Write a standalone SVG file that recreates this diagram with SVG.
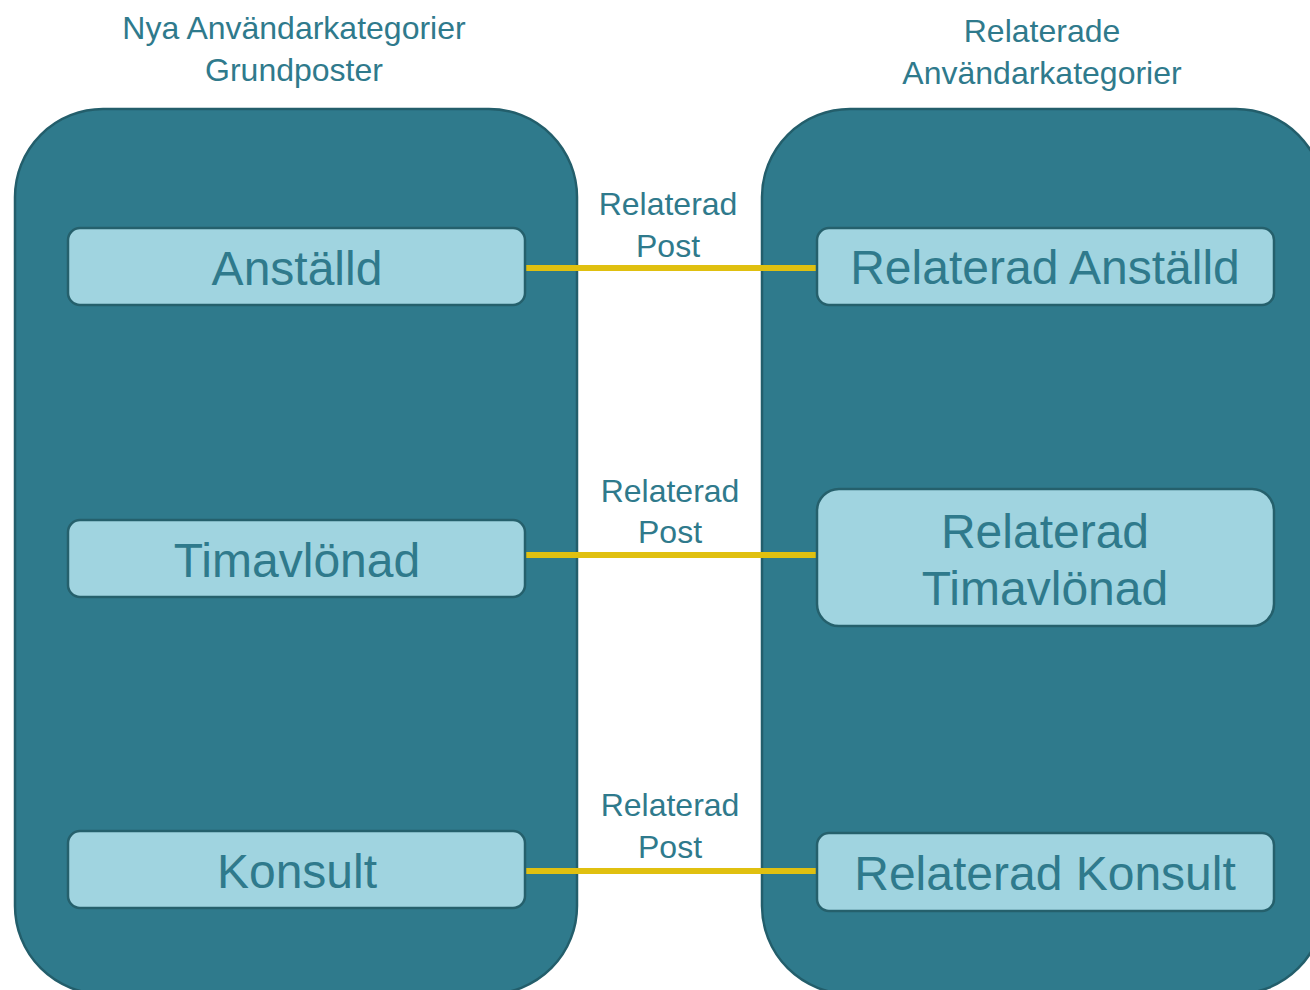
<svg xmlns="http://www.w3.org/2000/svg" width="1310" height="990" viewBox="0 0 1310 990">
<style>
.container{fill:#2F7A8C;stroke:#235E6B;stroke-width:2.5}
.node{fill:#A0D4E0;stroke:#25606C;stroke-width:2.5}
.ntext{font-family:"Liberation Sans",Arial,sans-serif;font-size:48px;fill:#2F7A8C;text-anchor:middle}
.title{font-family:"Liberation Sans",Arial,sans-serif;font-size:32px;fill:#2F7A8C;text-anchor:middle}
.edge{stroke:#E0C010;stroke-width:6;fill:none}
.elabel{font-family:"Liberation Sans",Arial,sans-serif;font-size:32px;fill:#2F7A8C;text-anchor:middle}
</style>
<rect width="1310" height="990" fill="#FFFFFF"/>
<g id="titles">
<text class="title" x="294" y="39">Nya Användarkategorier</text>
<text class="title" x="294" y="81">Grundposter</text>
<text class="title" x="1042" y="42">Relaterade</text>
<text class="title" x="1042" y="84">Användarkategorier</text>
</g>
<g id="container-left"><rect class="container" x="15" y="109" width="562" height="885" rx="88" ry="88"/></g>
<g id="container-right"><rect class="container" x="762" y="109" width="562" height="885" rx="88" ry="88"/></g>
<g id="connectors">
<line class="edge" x1="525" y1="268" x2="817" y2="268"/>
<line class="edge" x1="525" y1="555" x2="817" y2="555"/>
<line class="edge" x1="525" y1="871" x2="817" y2="871"/>
<text class="elabel" x="668" y="215">Relaterad</text>
<text class="elabel" x="668" y="257">Post</text>
<text class="elabel" x="670" y="502">Relaterad</text>
<text class="elabel" x="670" y="543">Post</text>
<text class="elabel" x="670" y="816">Relaterad</text>
<text class="elabel" x="670" y="858">Post</text>
</g>
<g id="node-anstalld"><rect class="node" x="68" y="228" width="457" height="77" rx="12"/><text class="ntext" x="297" y="285">Anställd</text></g>
<g id="node-timavlonad"><rect class="node" x="68" y="520" width="457" height="77" rx="12"/><text class="ntext" x="297" y="577">Timavlönad</text></g>
<g id="node-konsult"><rect class="node" x="68" y="831" width="457" height="77" rx="12"/><text class="ntext" x="297" y="888">Konsult</text></g>
<g id="node-rel-anstalld"><rect class="node" x="817" y="228" width="457" height="77" rx="12"/><text class="ntext" x="1045" y="284">Relaterad Anställd</text></g>
<g id="node-rel-timavlonad"><rect class="node" x="817" y="489" width="457" height="137" rx="22"/><text class="ntext" x="1045" y="548">Relaterad</text><text class="ntext" x="1045" y="605">Timavlönad</text></g>
<g id="node-rel-konsult"><rect class="node" x="817" y="833" width="457" height="78" rx="12"/><text class="ntext" x="1045" y="890">Relaterad Konsult</text></g>
</svg>
